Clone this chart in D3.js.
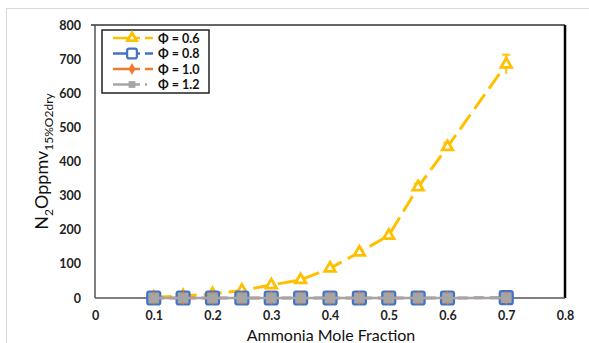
<!DOCTYPE html>
<html lang="en">
<head>
<meta charset="UTF-8">
<script src="https://d3js.org/d3.v7.min.js"></script>
<title>N2O vs ammonia</title>
<style>
  body { margin: 0; background: #fff; }
  text { font-family: Lato, 'Open Sans', sans-serif; fill: #222; }
  .tick text { font-size: 12.5px; font-weight: bold; }
</style>
</head>
<body>
<script>
  const width = 589, height = 343;

  // data
  const xPhi06 = [0.1, 0.15, 0.2, 0.25, 0.3, 0.35, 0.4, 0.45, 0.5, 0.55, 0.6, 0.7];
  const yPhi06 = [2, 6, 12, 22, 38, 53, 87, 134, 183, 325, 443, 685];
  const errPhi06 = [0, 0, 0, 0, 0, 0, 0, 0, 0, 10, 12, 28];
  const xLean = [0.1, 0.15, 0.2, 0.25, 0.3, 0.35, 0.4, 0.45, 0.5, 0.55, 0.6, 0.7];
  const yPhi08 = [0, 0, 0, 0, 0, 0, 0, 0, 0, 0, 0, 1];
  const yPhi10 = [0, 0, 0, 0, 0, 0, 0, 0, 0, 0, 0, 0];
  const yPhi12 = [0, 0, 0, 0, 0, 0, 0, 0, 0, 0, 0, 0];
  const xTicks = [0, 0.1, 0.2, 0.3, 0.4, 0.5, 0.6, 0.7, 0.8];
  const yTicks = [0, 100, 200, 300, 400, 500, 600, 700, 800];
  const legendLabels = ["Φ = 0.6", "Φ = 0.8", "Φ = 1.0", "Φ = 1.2"];

  const series = [
    {name: legendLabels[0], x: xPhi06, y: yPhi06, err: errPhi06, color: "#FFC000", dash: "18,7", marker: "tri"},
    {name: legendLabels[1], x: xLean, y: yPhi08, color: "#4472C4", dash: "10,6", marker: "sq"},
    {name: legendLabels[2], x: xLean, y: yPhi10, color: "#ED7D31", dash: "10,6", marker: "dia"},
    {name: legendLabels[3], x: xLean, y: yPhi12, color: "#A5A5A5", dash: null, marker: "x"}
  ];

  const m = {left: 95, right: 24, top: 25, bottom: 45};

  const svg = d3.select("body").append("svg")
      .attr("width", width).attr("height", height);

  // outer chart border
  svg.append("rect").attr("x", 6.5).attr("y", 8.5)
      .attr("width", width).attr("height", height)
      .attr("fill", "none").attr("stroke", "#d9d9d9");

  const x = d3.scaleLinear().domain([0, 0.8]).range([m.left, width - m.right]);
  const y = d3.scaleLinear().domain([0, 800]).range([height - m.bottom, m.top]);

  // axes (labels only, frame drawn separately)
  svg.append("g")
      .attr("transform", `translate(0,${height - m.bottom})`)
      .call(d3.axisBottom(x).tickValues(xTicks).tickSize(0).tickPadding(13)
          .tickFormat(d => d === 0 ? "0" : d3.format(".1f")(d)))
      .call(g => g.select(".domain").remove());

  svg.append("g")
      .attr("transform", `translate(${m.left},0)`)
      .call(d3.axisLeft(y).tickValues(yTicks).tickSize(0).tickPadding(14))
      .call(g => g.select(".domain").remove());

  // plot frame
  const x0 = x(0), x1 = x(0.8), y0 = y(0), y1 = y(800);
  svg.append("line").attr("x1", x0).attr("x2", x1).attr("y1", y1).attr("y2", y1)
      .attr("stroke", "#333").attr("stroke-width", 1.5);
  svg.append("line").attr("x1", x1).attr("x2", x1).attr("y1", y1).attr("y2", y0)
      .attr("stroke", "#000").attr("stroke-width", 2.5);
  svg.append("line").attr("x1", x0).attr("x2", x0).attr("y1", y1).attr("y2", y0)
      .attr("stroke", "#555").attr("stroke-width", 1.5);
  svg.append("line").attr("x1", x0).attr("x2", x1).attr("y1", y0).attr("y2", y0)
      .attr("stroke", "#555").attr("stroke-width", 1.5);
  svg.append("line").attr("x1", x0 - 4).attr("x2", x0).attr("y1", y1).attr("y2", y1)
      .attr("stroke", "#333").attr("stroke-width", 1.5);

  function drawMarker(g, type, color, cx, cy, scale) {
    const k = scale || 1;
    if (type === "tri") {
      g.append("path").attr("d", d3.symbol(d3.symbolTriangle, 48 * k)())
          .attr("transform", `translate(${cx},${cy})`)
          .attr("fill", "#fff").attr("stroke", color).attr("stroke-width", 2.8);
    } else if (type === "sq") {
      g.append("rect").attr("x", cx - 6.5 * k).attr("y", cy - 6.5 * k)
          .attr("width", 13 * k).attr("height", 13 * k).attr("rx", 2)
          .attr("fill", scale ? "#fff" : "#A5A5A5").attr("stroke", color).attr("stroke-width", 2.2);
    } else if (type === "dia") {
      g.append("path").attr("d", d3.symbol(d3.symbolDiamond, 55 * k)())
          .attr("transform", `translate(${cx},${cy})`)
          .attr("fill", color);
    } else {
      const r = 4.5 * k;
      g.append("rect").attr("x", cx - r).attr("y", cy - r)
          .attr("width", 2 * r).attr("height", 2 * r)
          .attr("fill", color);
    }
  }

  const line = d3.line().x(d => x(d[0])).y(d => y(d[1]));

  series.forEach((s, i) => {
    const pts = s.x.map((v, j) => [v, s.y[j]]);
    const g = svg.append("g");
    g.append("path").datum(pts).attr("d", line)
        .attr("fill", "none").attr("stroke", s.color)
        .attr("stroke-width", i === 0 ? 3 : 2.5)
        .attr("stroke-dasharray", s.dash);
    if (s.err) {
      pts.forEach((p, j) => {
        if (!s.err[j]) return;
        g.append("line").attr("x1", x(p[0])).attr("x2", x(p[0]))
            .attr("y1", y(p[1] - s.err[j])).attr("y2", y(p[1] + s.err[j]))
            .attr("stroke", s.color).attr("stroke-width", 2);
        g.append("line").attr("x1", x(p[0]) - 4).attr("x2", x(p[0]) + 4)
            .attr("y1", y(p[1] + s.err[j])).attr("y2", y(p[1] + s.err[j]))
            .attr("stroke", s.color).attr("stroke-width", 2);
      });
    }
    pts.forEach(p => drawMarker(g, s.marker, s.color, x(p[0]), y(p[1])));
  });

  // legend
  const lg = svg.append("g").attr("transform", "translate(102,30)");
  lg.append("rect").attr("width", 107).attr("height", 63)
      .attr("fill", "#fff").attr("stroke", "#222").attr("stroke-width", 1.5);
  series.forEach((s, i) => {
    const ly = 8 + i * 15.5;
    lg.append("line").attr("x1", 11).attr("x2", 38).attr("y1", ly).attr("y2", ly)
        .attr("stroke", s.color).attr("stroke-width", 2.5);
    lg.append("line").attr("x1", 43).attr("x2", s.dash ? 51 : 45).attr("y1", ly).attr("y2", ly)
        .attr("stroke", s.color).attr("stroke-width", 2.5);
    drawMarker(lg, s.marker, s.color, 30, ly, 0.75);
    lg.append("text").attr("x", 56).attr("y", ly + 4.5)
        .style("font-size", "12.5px").style("font-weight", "bold").style("fill", "#111")
        .text(s.name);
  });

  // axis titles
  svg.append("text")
      .attr("x", (x0 + x1) / 2 + 1).attr("y", 341)
      .attr("text-anchor", "middle")
      .style("font-size", "16px").style("fill", "#111")
      .text("Ammonia  Mole Fraction");

  const yt = svg.append("text")
      .attr("transform", `translate(48,${(y0 + y1) / 2}) rotate(-90)`)
      .attr("text-anchor", "middle")
      .style("font-size", "18px").style("fill", "#111");
  yt.append("tspan").text("N");
  yt.append("tspan").attr("dy", 5).style("font-size", "12px").text("2");
  yt.append("tspan").attr("dy", -5).text("Oppmv");
  yt.append("tspan").attr("dy", 5).style("font-size", "12px").text("15%O2dry");
</script>
</body>
</html>
